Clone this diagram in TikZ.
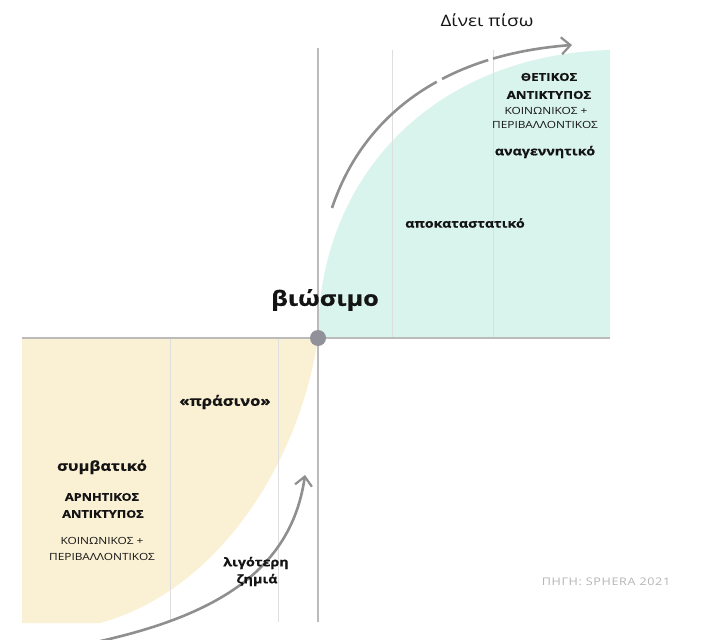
\documentclass[tikz,border=0pt]{standalone}
\usepackage{fontspec}
\setmainfont{Open Sans}[FakeStretch=1.2, BoldFeatures={FakeBold=0.8}]
\usetikzlibrary{arrows.meta}
\definecolor{mint}{HTML}{D9F4EC}
\definecolor{cream}{HTML}{FAF0D3}
\definecolor{axisgray}{HTML}{BBBBBB}
\definecolor{gridgray}{HTML}{DEDEDE}
\definecolor{arrowgray}{HTML}{8F8F8F}
\definecolor{dotgray}{HTML}{919199}
\definecolor{ink}{HTML}{141414}
\definecolor{srcgray}{HTML}{B5B5B5}
\tikzset{
  axisline/.style={draw=axisgray, line width=1.6pt},
  gridline/.style={draw=gridgray, line width=1pt},
  flowarrow/.style={draw=arrowgray, line width=2.6pt, -{Straight Barb[length=9pt,width=17pt,line width=2.2pt]}},
  lbl/.style={text=ink, inner sep=0pt, align=center},
  bigbold/.style={lbl, font=\fontsize{13.8}{17}\selectfont\bfseries},
  midbold/.style={lbl, font=\fontsize{11.9}{14}\selectfont\bfseries},
  capsbold/.style={lbl, font=\fontsize{11}{13}\selectfont\bfseries},
  capslight/.style={lbl, font=\fontsize{9.9}{11}\selectfont},
}
\begin{document}
\begin{tikzpicture}[x=1pt,y=-1pt]
\useasboundingbox (0,0) rectangle (703,639);
\fill[white] (0,0) rectangle (703,639);
% regions
\fill[mint] (318,338) .. controls (318,175) and (435,55) .. (610,50) -- (610,338) -- cycle;
\fill[cream] (22,338) -- (318,338) .. controls (300,460) and (220,590) .. (100,623) -- (22,623) -- cycle;
% grid
\draw[gridline] (392,50) -- (392,338);
\draw[gridline] (493,50) -- (493,338);
\draw[gridline] (170,338) -- (170,622);
\draw[gridline] (278,338) -- (278,622);
% axes
\draw[axisline] (318,48) -- (318,622);
\draw[axisline] (22,338) -- (610,338);
\node[circle, fill=dotgray, minimum size=16pt, inner sep=0pt] (origin) at (318,338) {};
% arrows
\coordinate (topstart) at (332,208);
\coordinate (topend) at (572,45);
\draw[flowarrow, dash pattern=on 168pt off 6pt on 50pt off 5pt on 200pt]
  (topstart) .. controls (362,118) and (440,55) .. (topend);
\coordinate (botstart) at (55,650);
\coordinate (botend) at (305,475);
\draw[flowarrow] (botstart) .. controls (200,625) and (290,580) .. (botend);
% texts
\node[lbl, font=\fontsize{15.8}{19}\selectfont] (give) at (487,20) {Δίνει πίσω};
\node[capsbold] (pos1) at (549,77) {ΘΕΤΙΚΟΣ};
\node[capsbold] (pos2) at (549,95) {ΑΝΤΙΚΤΥΠΟΣ};
\node[capslight] (pos3) at (546,111) {ΚΟΙΝΩΝΙΚΟΣ +};
\node[capslight] (pos4) at (545,125) {ΠΕΡΙΒΑΛΛΟΝΤΙΚΟΣ};
\node[midbold] (regen) at (545,152) {αναγεννητικό};
\node[midbold, font=\fontsize{11.8}{14}\selectfont\bfseries] (restor) at (465,223) {αποκαταστατικό};
\node[lbl, font=\fontsize{21}{25}\selectfont\bfseries] (sust) at (325,300) {βιώσιμο};
\node[bigbold] (green) at (225,402) {«πράσινο»};
\node[bigbold] (conv) at (102,467) {συμβατικό};
\node[capsbold, font=\fontsize{10.6}{13}\selectfont\bfseries] (neg1) at (102,497) {ΑΡΝΗΤΙΚΟΣ};
\node[capsbold, font=\fontsize{10.6}{13}\selectfont\bfseries] (neg2) at (103,514) {ΑΝΤΙΚΤΥΠΟΣ};
\node[capslight] (neg3) at (102,541) {ΚΟΙΝΩΝΙΚΟΣ +};
\node[capslight] (neg4) at (102,557) {ΠΕΡΙΒΑΛΛΟΝΤΙΚΟΣ};
\node[midbold] (less1) at (256,563) {λιγότερη};
\node[midbold] (less2) at (257,580) {ζημιά};
\node[lbl, text=srcgray, font=\fontsize{10.5}{12}\selectfont\addfontfeature{LetterSpace=6}] (src) at (606,582) {ΠΗΓΗ: SPHERA 2021};
\end{tikzpicture}
\end{document}
